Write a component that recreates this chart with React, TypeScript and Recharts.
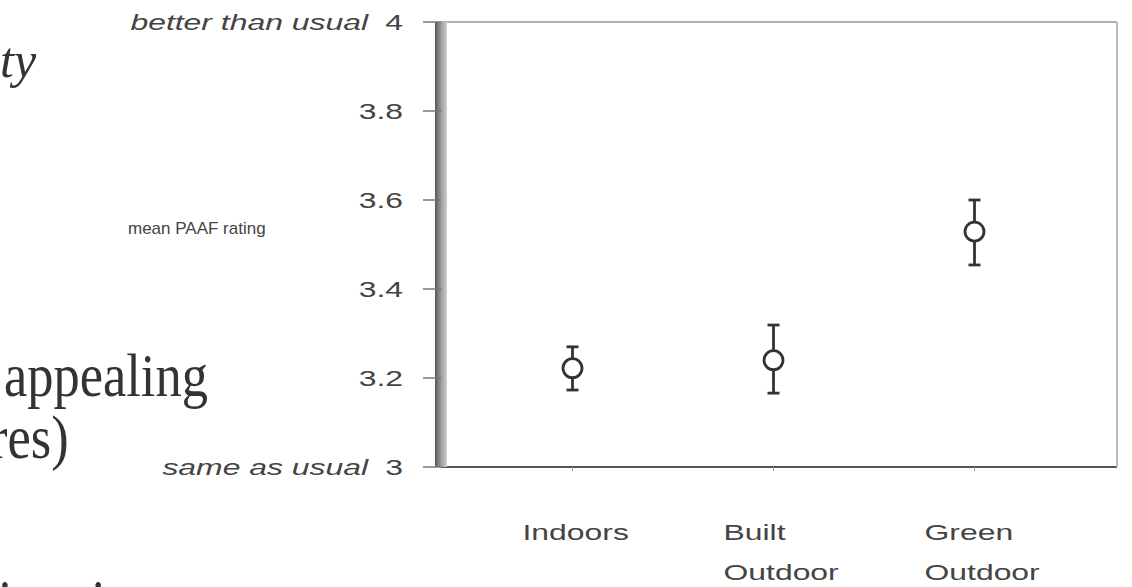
import React from 'react';
import { ScatterChart, Scatter, XAxis, YAxis, ErrorBar, ReferenceLine } from 'recharts';

// Mean PAAF rating per setting, with the ends of each error bar
const categories = ['Indoors', 'Built Outdoor', 'Green Outdoor'];
const categoryLines = [['Indoors'], ['Built', 'Outdoor'], ['Green', 'Outdoor']];
const meanRating = [3.222, 3.24, 3.529];
const lowerBound = [3.173, 3.166, 3.454];
const upperBound = [3.27, 3.319, 3.6];

const yTicks = [3, 3.2, 3.4, 3.6, 3.8, 4];
const yTickNotes: Record<string, string> = { '3': 'same as usual', '4': 'better than usual' };
const yAxisTitle = 'mean PAAF rating';

// Fragments of the surrounding slide text
const slideItalic = 'ty';
const slideLines = ['appealing', 'res)', 'irections'];

const data = categories.map((name, i) => ({
  name,
  mean: meanRating[i],
  err: [meanRating[i] - lowerBound[i], upperBound[i] - meanRating[i]],
}));

const CHART_FONT = '"Liberation Sans", Arial, sans-serif';
const TEXT_COLOR = '#444';
const STRETCH = 1.45;

const YTick = (props: any) => {
  const { x, y, payload } = props;
  const v = Number(payload.value);
  const label = Number.isInteger(v) ? String(v) : v.toFixed(1);
  const note = yTickNotes[label];
  return (
    <g fontFamily={CHART_FONT} fill={TEXT_COLOR} fontSize={22}>
      <text transform={`translate(${x},${y}) scale(${STRETCH},1)`} textAnchor="end" dy="0.35em">
        {label}
      </text>
      {note && (
        <text
          transform={`translate(${x - 35},${y}) scale(${STRETCH},1)`}
          textAnchor="end"
          dy="0.35em"
          fontStyle="italic"
        >
          {note}
        </text>
      )}
    </g>
  );
};

const XTick = (props: any) => {
  const { x, y, index } = props;
  const lines: string[] = categoryLines[index] || [];
  return (
    <g fontFamily={CHART_FONT} fill={TEXT_COLOR} fontSize={22}>
      {lines.map((ln, i) => (
        <text key={ln + i} transform={`translate(${x - 50},${y + 69 + i * 40}) scale(${STRETCH},1)`} textAnchor="start">
          {ln}
        </text>
      ))}
    </g>
  );
};

const AxisTitle = (props: any) => {
  const vb = props.viewBox || {};
  return (
    <text
      x={vb.x + 128}
      y={vb.y + vb.height / 2 - 11}
      fontFamily={CHART_FONT}
      fill={TEXT_COLOR}
      fontSize={17}
      textAnchor="start"
    >
      {yAxisTitle}
    </text>
  );
};

const Marker = (props: any) => {
  const { cx, cy } = props;
  return <circle cx={cx} cy={cy} r={9.5} fill="#fff" stroke="#333" strokeWidth={2.8} />;
};

export default function App() {
  return (
    <div style={{ position: 'absolute', left: 0, top: 0, width: 1132, height: 587, overflow: 'hidden', background: '#fff' }}>
      <svg width={1132} height={587} style={{ position: 'absolute', left: 0, top: 0 }}>
        <g fontFamily='"Liberation Serif", "Times New Roman", serif' fill="#333">
          <text x={0} y={77} fontSize={50} fontStyle="italic">{slideItalic}</text>
          <text transform="translate(4,396) scale(0.86,1)" fontSize={61}>{slideLines[0]}</text>
          <text transform="translate(-10,458) scale(0.86,1)" fontSize={61}>{slideLines[1]}</text>
          <text transform="translate(-2,622) scale(0.86,1)" fontSize={61}>{slideLines[2]}</text>
        </g>
      </svg>
      <div style={{ position: 'absolute', left: 0, top: 0 }}>
        <ScatterChart width={1132} height={587} margin={{ top: 22, right: 0, bottom: 0, left: 0 }}>
          <defs>
            <linearGradient id="axisBar" gradientUnits="userSpaceOnUse" x1={435} y1={0} x2={447} y2={0}>
              <stop offset="0" stopColor="#555" />
              <stop offset="0.35" stopColor="#8a8a8a" />
              <stop offset="1" stopColor="#d0d0d0" />
            </linearGradient>
          </defs>
          {/* top frame edge */}
          <ReferenceLine y={4} stroke="#999" strokeWidth={1.5} ifOverflow="visible" />
          <XAxis
            dataKey="name"
            type="category"
            allowDuplicatedCategory={false}
            height={120}
            padding={{ left: 31, right: 42 }}
            axisLine={{ stroke: '#555', strokeWidth: 2 }}
            tickLine={{ stroke: '#999' }}
            tickSize={4}
            tickMargin={0}
            tick={<XTick />}
            interval={0}
          />
          <YAxis
            dataKey="mean"
            type="number"
            domain={[3, 4]}
            ticks={yTicks}
            width={441}
            tickSize={18}
            tickMargin={20}
            tickLine={{ stroke: '#777', strokeWidth: 1.5 }}
            axisLine={{ stroke: 'url(#axisBar)', strokeWidth: 12 }}
            tick={<YTick />}
            interval={0}
            label={<AxisTitle />}
          />
          {/* right frame edge */}
          <YAxis
            yAxisId="frameRight"
            orientation="right"
            type="number"
            domain={[3, 4]}
            width={15}
            axisLine={{ stroke: '#bbb', strokeWidth: 2 }}
            tick={false}
            tickLine={false}
          />
          <Scatter data={data} dataKey="mean" shape={<Marker />} isAnimationActive={false}>
            <ErrorBar dataKey="err" direction="y" width={6} stroke="#333" strokeWidth={2.8} />
          </Scatter>
        </ScatterChart>
      </div>
    </div>
  );
}
